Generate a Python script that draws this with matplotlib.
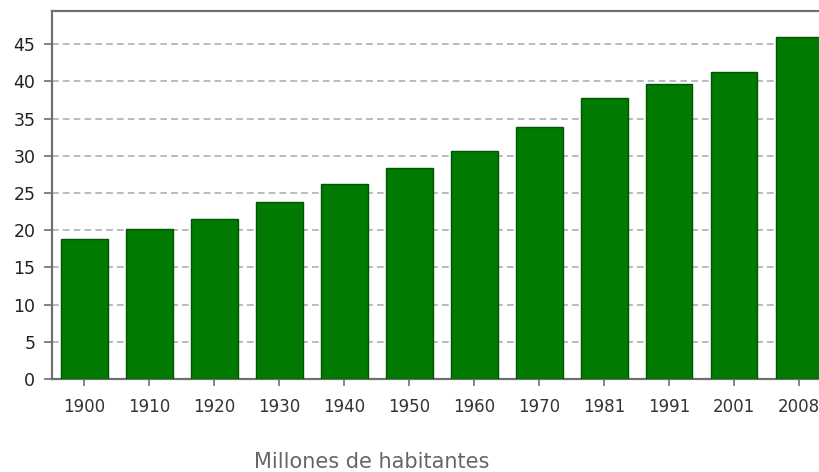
import matplotlib
matplotlib.use("Agg")
import matplotlib.pyplot as plt

years = ["1900", "1910", "1920", "1930", "1940", "1950", "1960", "1970", "1981", "1991", "2001", "2008"]
population = [18.8, 20.2, 21.5, 23.75, 26.2, 28.3, 30.7, 33.9, 37.7, 39.6, 41.3, 46.0]
yticks = [0, 5, 10, 15, 20, 25, 30, 35, 40, 45]
xlabel = "Millones de habitantes"

W, H = 820, 472
fig = plt.figure(figsize=(W / 100, H / 100), dpi=100)
left, right, top, bottom = 52, 831.5, 10.7, 379
ax = fig.add_axes([left / W, (H - bottom) / H, (right - left) / W, (bottom - top) / H])

x = list(range(len(years)))
ax.bar(x, population, width=0.72, color="#007a00", edgecolor="#005500", linewidth=1.0, zorder=3)

ax.set_xlim(-0.5, len(years) - 0.5)
ax.set_ylim(0, 49.5)
ax.set_yticks(yticks)
ax.set_yticklabels([str(v) for v in yticks])
ax.set_xticks(x)
ax.set_xticklabels(years)

for v in yticks[1:]:
    ax.axhline(v, color="#adb0b3", linewidth=1.2, linestyle=(0, (4, 2.5)), zorder=1)

for s in ax.spines.values():
    s.set_color("#707070")
    s.set_linewidth(1.6)

ax.tick_params(axis="y", length=6, width=1.2, color="#707070", pad=6, labelsize=12.5, labelcolor="#222222")
ax.tick_params(axis="x", length=5, width=1.2, color="#707070", pad=9, labelsize=12, labelcolor="#333333")

fig.text(372 / W, 1 - 462 / H, xlabel, ha="center", va="center", fontsize=15, color="#666666")

fig.savefig("out.png", dpi=100)
